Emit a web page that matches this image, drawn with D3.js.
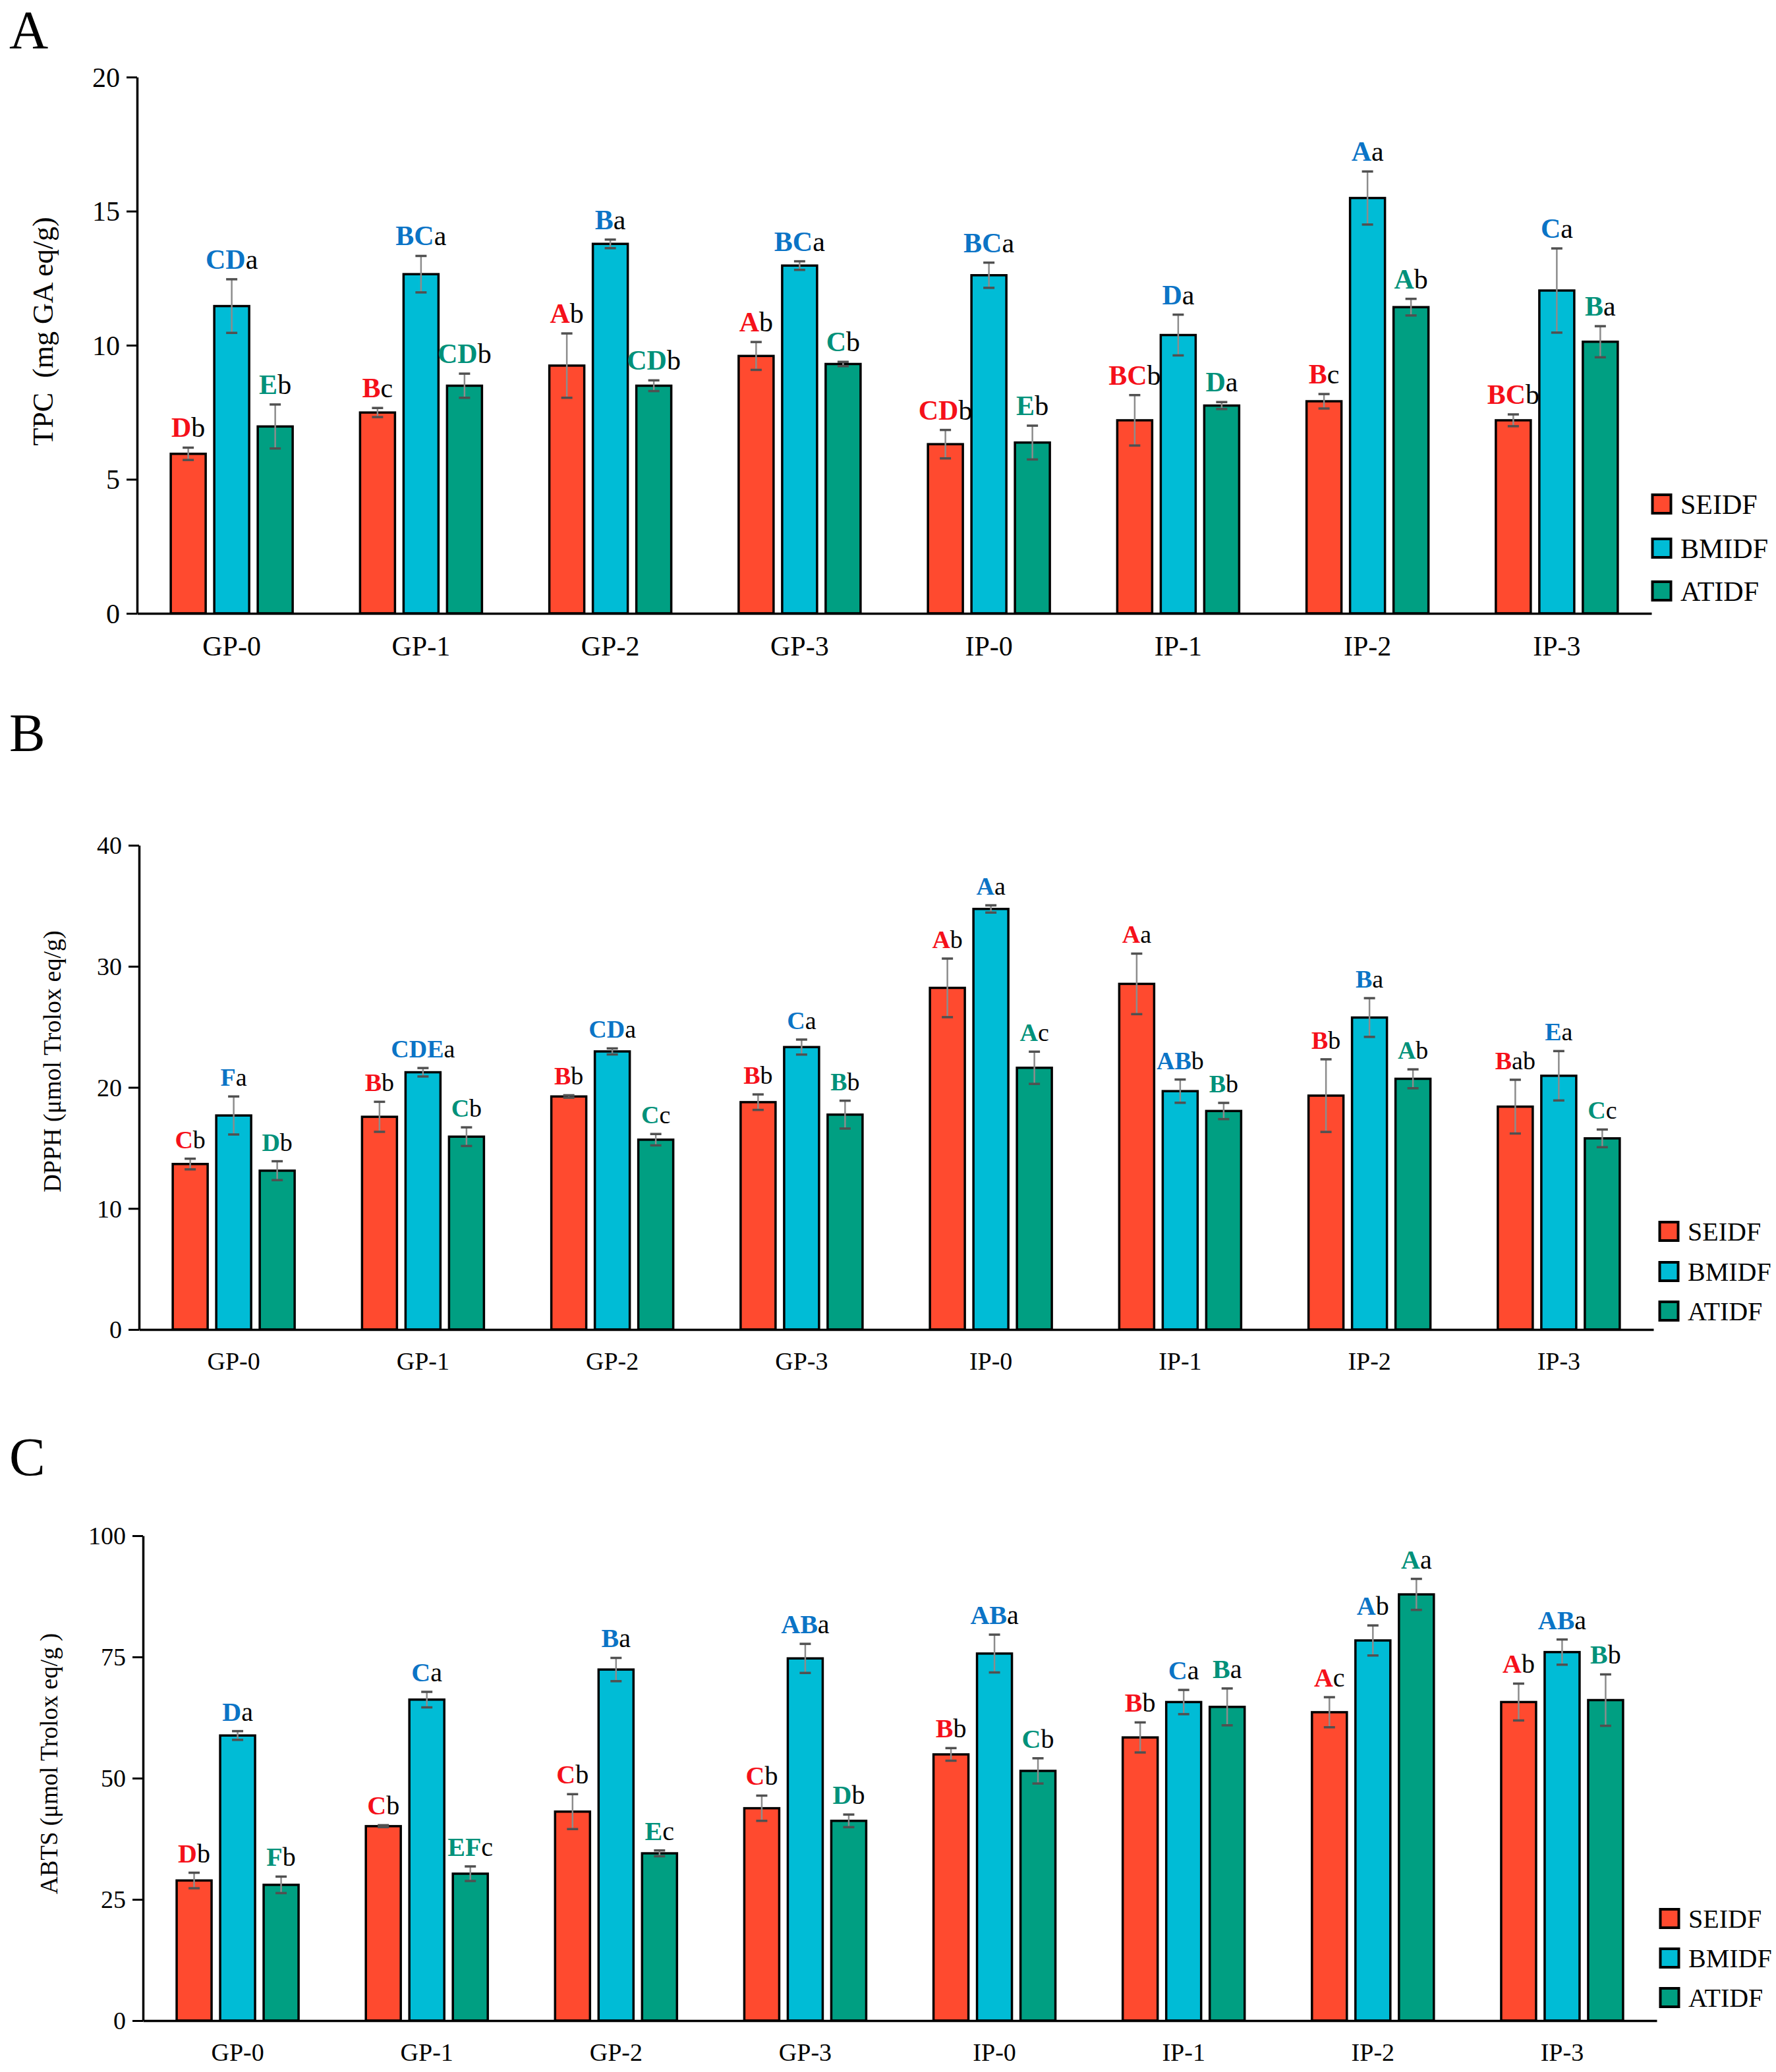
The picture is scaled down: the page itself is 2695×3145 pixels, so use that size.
<!DOCTYPE html>
<html><head><meta charset="utf-8">
<script src="https://cdn.jsdelivr.net/npm/d3@7"></script>
<style>
body{margin:0;background:#fff;}
svg{display:block;font-family:"Liberation Serif","Times New Roman",serif;}
svg text{font-family:"Liberation Serif","Times New Roman",serif;}
</style></head>
<body><svg id="fig" width="2695" height="3145"></svg>
<script>
const categories = ["GP-0","GP-1","GP-2","GP-3","IP-0","IP-1","IP-2","IP-3"];
const series = ["SEIDF","BMIDF","ATIDF"];

// Panel A: TPC
const tpcSEIDF = [5.95, 7.49, 9.24, 9.60, 6.31, 7.20, 7.91, 7.20];
const tpcBMIDF = [11.46, 12.65, 13.78, 12.97, 12.61, 10.38, 15.49, 12.04];
const tpcATIDF = [6.97, 8.49, 8.49, 9.30, 6.37, 7.75, 11.42, 10.13];
const tpcSEIDFsd = [0.23, 0.17, 1.2, 0.52, 0.53, 0.94, 0.27, 0.22];
const tpcBMIDFsd = [1.0, 0.68, 0.16, 0.16, 0.47, 0.76, 0.99, 1.57];
const tpcATIDFsd = [0.82, 0.45, 0.2, 0.08, 0.63, 0.13, 0.31, 0.58];
const tpcSEIDFlab = ["Db","Bc","Ab","Ab","CDb","BCb","Bc","BCb"];
const tpcBMIDFlab = ["CDa","BCa","Ba","BCa","BCa","Da","Aa","Ca"];
const tpcATIDFlab = ["Eb","CDb","CDb","Cb","Eb","Da","Ab","Ba"];
const tpcTicks = [0,5,10,15,20];

// Panel B: DPPH
const dpphSEIDF = [13.67, 17.57, 19.25, 18.78, 28.22, 28.55, 19.32, 18.41];
const dpphBMIDF = [17.68, 21.25, 22.97, 23.33, 34.74, 19.69, 25.77, 20.96];
const dpphATIDF = [13.12, 15.93, 15.68, 17.75, 21.62, 18.05, 20.71, 15.79];
const dpphSEIDFsd = [0.44, 1.24, 0.1, 0.64, 2.42, 2.5, 3.0, 2.22];
const dpphBMIDFsd = [1.57, 0.35, 0.25, 0.62, 0.3, 0.96, 1.6, 2.04];
const dpphATIDFsd = [0.78, 0.77, 0.47, 1.15, 1.33, 0.67, 0.78, 0.73];
const dpphSEIDFlab = ["Cb","Bb","Bb","Bb","Ab","Aa","Bb","Bab"];
const dpphBMIDFlab = ["Fa","CDEa","CDa","Ca","Aa","ABb","Ba","Ea"];
const dpphATIDFlab = ["Db","Cb","Cc","Bb","Ac","Bb","Ab","Cc"];
const dpphTicks = [0,10,20,30,40];

// Panel C: ABTS
const abtsSEIDF = [28.9, 40.1, 43.1, 43.8, 54.9, 58.4, 63.6, 65.7];
const abtsBMIDF = [58.8, 66.2, 72.4, 74.7, 75.7, 65.7, 78.4, 76.0];
const abtsATIDF = [28.0, 30.3, 34.5, 41.2, 51.5, 64.7, 87.9, 66.1];
const abtsSEIDFsd = [1.6, 0.2, 3.6, 2.6, 1.3, 3.1, 3.1, 3.8];
const abtsBMIDFsd = [0.9, 1.6, 2.4, 3.0, 3.9, 2.5, 3.1, 2.6];
const abtsATIDFsd = [1.7, 1.5, 0.6, 1.3, 2.6, 3.8, 3.2, 5.3];
const abtsSEIDFlab = ["Db","Cb","Cb","Cb","Bb","Bb","Ac","Ab"];
const abtsBMIDFlab = ["Da","Ca","Ba","ABa","ABa","Ca","Ab","ABa"];
const abtsATIDFlab = ["Fb","EFc","Ec","Db","Cb","Ba","Aa","Bb"];
const abtsTicks = [0,25,50,75,100];

const barFill = {SEIDF:"#FF4A2F", BMIDF:"#00BCD6", ATIDF:"#009F82"};
const letterFill = {SEIDF:"#F5101A", BMIDF:"#0B74C6", ATIDF:"#00917A"};
const FONT = "Liberation Serif";

const panels = [
  {letter:"A", letterY:73, yLabel:"TPC\u00a0\u00a0(mg GA eq/g)", max:20, ticks:tpcTicks,
   x0:208, x1:2506, yTop:117, yBot:931, tickFont:42, labFont:42, axLabFont:44, yLabX:80, yLabC:503, legFont:42, legY:[765,832,897], legX:2506,
   mean:{SEIDF:tpcSEIDF,BMIDF:tpcBMIDF,ATIDF:tpcATIDF},
   sd:{SEIDF:tpcSEIDFsd,BMIDF:tpcBMIDFsd,ATIDF:tpcATIDFsd},
   lab:{SEIDF:tpcSEIDFlab,BMIDF:tpcBMIDFlab,ATIDF:tpcATIDFlab}},
  {letter:"B", letterY:1140, yLabel:"DPPH (\u03bcmol Trolox eq/g)", max:40, ticks:dpphTicks,
   x0:211, x1:2509, yTop:1283, yBot:2018, tickFont:38, labFont:38, axLabFont:38, yLabX:92, yLabC:1611, legFont:40, legY:[1869,1930,1990], legX:2517,
   mean:{SEIDF:dpphSEIDF,BMIDF:dpphBMIDF,ATIDF:dpphATIDF},
   sd:{SEIDF:dpphSEIDFsd,BMIDF:dpphBMIDFsd,ATIDF:dpphATIDFsd},
   lab:{SEIDF:dpphSEIDFlab,BMIDF:dpphBMIDFlab,ATIDF:dpphATIDFlab}},
  {letter:"C", letterY:2239, yLabel:"ABTS (\u03bcmol Trolox eq/g )", max:100, ticks:abtsTicks,
   x0:217, x1:2514, yTop:2331, yBot:3067, tickFont:38, labFont:40, axLabFont:37, yLabX:87, yLabC:2677, legFont:40, legY:[2912,2972,3032], legX:2518,
   mean:{SEIDF:abtsSEIDF,BMIDF:abtsBMIDF,ATIDF:abtsATIDF},
   sd:{SEIDF:abtsSEIDFsd,BMIDF:abtsBMIDFsd,ATIDF:abtsATIDFsd},
   lab:{SEIDF:abtsSEIDFlab,BMIDF:abtsBMIDFlab,ATIDF:abtsATIDFlab}}
];

const svg = d3.select("#fig");

panels.forEach(p => {
  const g = svg.append("g");
  const x = d3.scaleBand().domain(categories).range([p.x0, p.x1]);
  const xs = d3.scaleBand().domain(series).range([-92.5, 92.5]).paddingInner(0.197);
  const y = d3.scaleLinear().domain([0, p.max]).range([p.yBot, p.yTop]);

  // panel letter
  g.append("text").attr("x", 14).attr("y", p.letterY).attr("font-size", 82)
    .attr("font-family", FONT).attr("fill", "#000").text(p.letter);

  // y axis
  const ya = g.append("g").attr("transform", `translate(${p.x0},0)`)
    .call(d3.axisLeft(y).tickValues(p.ticks).tickSize(16).tickSizeOuter(0).tickPadding(10).tickFormat(d3.format("d")));
  ya.attr("font-family", FONT);
  ya.select(".domain").attr("stroke", "#000").attr("stroke-width", 3.5);
  ya.selectAll(".tick line").attr("stroke", "#000").attr("stroke-width", 3);
  ya.selectAll(".tick text").attr("font-size", p.tickFont).attr("font-family", FONT).attr("fill", "#000").attr("dy", "0.34em");

  // y label
  g.append("text").attr("transform", `translate(${p.yLabX},${p.yLabC}) rotate(-90)`)
    .attr("text-anchor", "middle").attr("font-size", p.axLabFont).attr("font-family", FONT).attr("fill", "#000")
    .style("white-space", "pre").text(p.yLabel);

  // bars
  series.forEach(s => {
    const data = categories.map((c, i) => ({c, v: p.mean[s][i], sd: p.sd[s][i], lab: p.lab[s][i]}));
    const cx = d => x(d.c) + x.bandwidth() / 2 + xs(s) + xs.bandwidth() / 2;
    g.selectAll(null).data(data).enter().append("rect")
      .attr("x", d => x(d.c) + x.bandwidth() / 2 + xs(s))
      .attr("y", d => y(d.v))
      .attr("width", xs.bandwidth())
      .attr("height", d => y(0) - y(d.v))
      .attr("fill", barFill[s]).attr("stroke", "#000").attr("stroke-width", 3.5);
    // error bars
    const eg = g.selectAll(null).data(data).enter().append("g");
    eg.append("line").attr("x1", cx).attr("x2", cx)
      .attr("y1", d => y(d.v + d.sd)).attr("y2", d => y(d.v - d.sd))
      .attr("stroke", "#8c8c8c").attr("stroke-width", 2.5);
    eg.append("line").attr("x1", d => cx(d) - 8.5).attr("x2", d => cx(d) + 8.5)
      .attr("y1", d => y(d.v + d.sd)).attr("y2", d => y(d.v + d.sd))
      .attr("stroke", "#505050").attr("stroke-width", 3.5);
    eg.append("line").attr("x1", d => cx(d) - 8.5).attr("x2", d => cx(d) + 8.5)
      .attr("y1", d => y(d.v - d.sd)).attr("y2", d => y(d.v - d.sd))
      .attr("stroke", "#505050").attr("stroke-width", 3.5);
    // significance labels
    const t = g.selectAll(null).data(data).enter().append("text")
      .attr("x", cx).attr("y", d => y(d.v + d.sd) - 16)
      .attr("text-anchor", "middle").attr("font-size", p.labFont).attr("font-family", FONT);
    t.append("tspan").attr("font-weight", "bold").attr("fill", letterFill[s])
      .text(d => d.lab.match(/^[A-Z]+/)[0]);
    t.append("tspan").attr("fill", "#000")
      .text(d => d.lab.match(/[a-z]+$/)[0]);
  });

  // x axis
  const xa = g.append("g").attr("transform", `translate(0,${p.yBot})`)
    .call(d3.axisBottom(x).tickSize(0).tickSizeOuter(0).tickPadding(34));
  xa.attr("font-family", FONT);
  xa.select(".domain").attr("stroke", "#000").attr("stroke-width", 3.5);
  xa.selectAll(".tick text").attr("font-size", p.tickFont).attr("font-family", FONT).attr("fill", "#000");

  // legend
  const lg = g.selectAll(null).data(series).enter().append("g")
    .attr("transform", (s, i) => `translate(${p.legX},${p.legY[i]})`);
  lg.append("rect").attr("x", 1.5).attr("y", -14).attr("width", 28).attr("height", 28)
    .attr("fill", s => barFill[s]).attr("stroke", "#000").attr("stroke-width", 4);
  lg.append("text").attr("x", 44).attr("y", 0).attr("dy", "0.35em").attr("font-size", p.legFont)
    .attr("font-family", FONT).attr("fill", "#000").text(s => s);
});
</script></body></html>
